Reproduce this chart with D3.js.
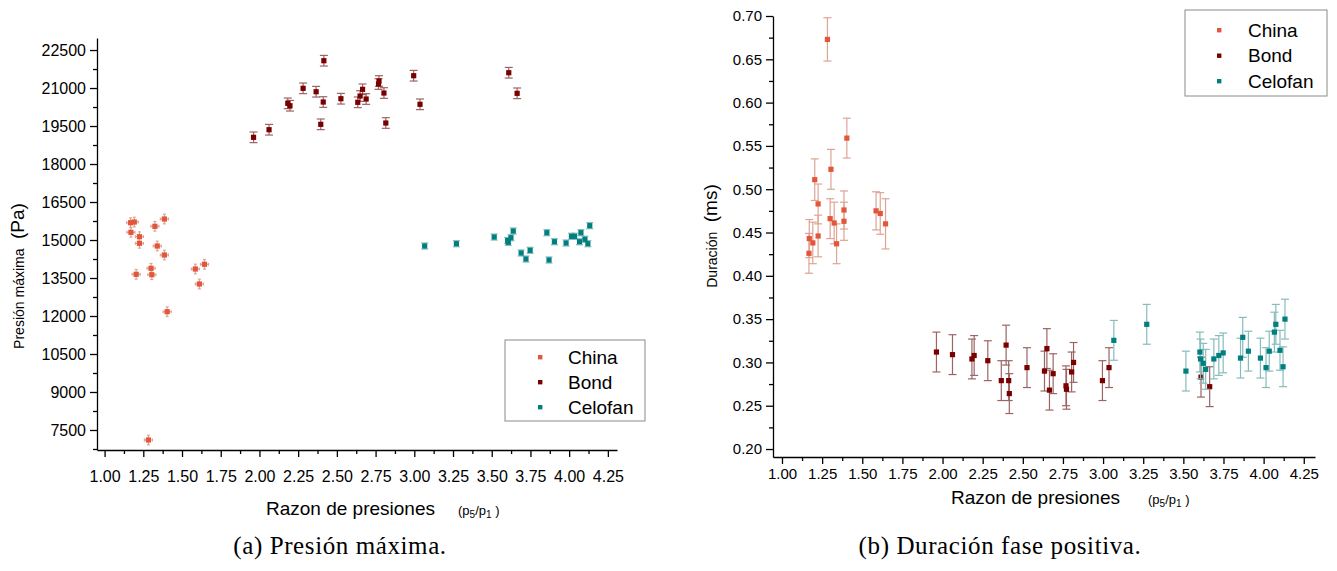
<!DOCTYPE html>
<html>
<head>
<meta charset="utf-8">
<script src="https://cdn.jsdelivr.net/npm/d3@7"></script>
<style>
  body { margin: 0; background: #fff; }
  text { font-family: "Liberation Sans", Arial, sans-serif; }
</style>
</head>
<body>
<svg id="fig" width="1337" height="571"></svg>
<script>
// ---- Papel China ----
const chinaRazon      = [1.168, 1.170, 1.192, 1.204, 1.225, 1.225, 1.283, 1.300, 1.305, 1.325, 1.340, 1.386, 1.386, 1.404, 1.586, 1.612, 1.645];
const chinaPresion    = [15683, 15304, 15710, 13646, 15130, 14870, 7105, 13883, 13630, 15540, 14763, 15829, 14408, 12170, 13855, 13263, 14041];
const chinaPresionErr = [190, 190, 190, 190, 190, 190, 190, 190, 190, 190, 190, 190, 190, 190, 190, 190, 190];
const chinaRazonErr   = [0.026, 0.026, 0.026, 0.026, 0.026, 0.026, 0.026, 0.026, 0.026, 0.026, 0.026, 0.026, 0.026, 0.026, 0.026, 0.026, 0.026];
const chinaDuracion   = [0.426, 0.443, 0.438, 0.511, 0.483, 0.446, 0.673, 0.466, 0.523, 0.461, 0.437, 0.476, 0.463, 0.559, 0.475, 0.472, 0.460];
const chinaDuracionErr= [0.023, 0.022, 0.024, 0.024, 0.023, 0.024, 0.025, 0.023, 0.023, 0.024, 0.023, 0.022, 0.022, 0.023, 0.022, 0.024, 0.029];

// ---- Papel Bond ----
const bondRazon       = [1.962, 2.062, 2.183, 2.197, 2.282, 2.366, 2.396, 2.412, 2.416, 2.526, 2.635, 2.650, 2.666, 2.689, 2.769, 2.772, 2.804, 2.816, 2.996, 3.037, 3.610, 3.664];
const bondPresion     = [19054, 19354, 20396, 20301, 20988, 20854, 19567, 20447, 22078, 20578, 20436, 20684, 20949, 20566, 21158, 21277, 20803, 19619, 21486, 20357, 21604, 20791];
const bondPresionErr  = [210, 210, 210, 210, 210, 210, 210, 210, 210, 210, 210, 210, 210, 210, 210, 210, 210, 210, 210, 210, 210, 210];
const bondDuracion    = [0.312, 0.309, 0.304, 0.308, 0.302, 0.279, 0.320, 0.279, 0.264, 0.294, 0.290, 0.316, 0.268, 0.287, 0.273, 0.269, 0.289, 0.300, 0.279, 0.294, 0.283, 0.272];
const bondDuracionErr = [0.023, 0.023, 0.023, 0.023, 0.023, 0.023, 0.023, 0.023, 0.023, 0.023, 0.023, 0.023, 0.023, 0.023, 0.023, 0.023, 0.023, 0.023, 0.023, 0.023, 0.023, 0.023];

// ---- Papel Celofán ----
const celofanRazon       = [3.067, 3.272, 3.516, 3.603, 3.607, 3.624, 3.639, 3.690, 3.721, 3.748, 3.856, 3.870, 3.905, 3.980, 4.015, 4.035, 4.067, 4.076, 4.102, 4.121, 4.133];
const celofanPresion     = [14763, 14854, 15118, 14980, 14909, 15091, 15355, 14487, 14250, 14593, 15289, 14211, 14933, 14882, 15146, 15146, 14933, 15289, 15028, 14854, 15566];
const celofanPresionErr  = [120, 120, 120, 120, 120, 120, 120, 120, 120, 120, 120, 120, 120, 120, 120, 120, 120, 120, 120, 120, 120];
const celofanDuracion    = [0.3255, 0.344, 0.290, 0.312, 0.304, 0.299, 0.292, 0.304, 0.308, 0.311, 0.305, 0.329, 0.313, 0.305, 0.294, 0.313, 0.335, 0.344, 0.314, 0.295, 0.350];
const celofanDuracionErr = [0.023, 0.023, 0.023, 0.023, 0.023, 0.023, 0.023, 0.023, 0.023, 0.023, 0.023, 0.023, 0.023, 0.023, 0.023, 0.023, 0.023, 0.023, 0.023, 0.023, 0.023];

// ---- Ticks ----
const razonTicks    = [1.00, 1.25, 1.50, 1.75, 2.00, 2.25, 2.50, 2.75, 3.00, 3.25, 3.50, 3.75, 4.00, 4.25];
const presionTicks  = [7500, 9000, 10500, 12000, 13500, 15000, 16500, 18000, 19500, 21000, 22500];
const duracionTicks = [0.20, 0.25, 0.30, 0.35, 0.40, 0.45, 0.50, 0.55, 0.60, 0.65, 0.70];
const seriesNames   = ["China", "Bond", "Celofan"];

const svg = d3.select("#fig");

const COLORS = { China: "#e2563a", Bond: "#7a0000", Celofan: "#007f7f" };
const ERRCOLORS = { China: "#dfa394", Bond: "#9c6464", Celofan: "#86bcbc" };

function zipSeries(name, xs, ys, yerr, xerr) {
  return xs.map((v, i) => ({ name, x: v, y: ys[i], ye: yerr[i], xe: xerr ? xerr[i] : 0 }));
}

function minorBetween(ticks) {
  const out = [];
  for (let i = 0; i < ticks.length - 1; i++) out.push((ticks[i] + ticks[i + 1]) / 2);
  out.push(ticks[ticks.length - 1] + (ticks[1] - ticks[0]) / 2);
  out.unshift(ticks[0] - (ticks[1] - ticks[0]) / 2);
  return out;
}

function drawPanel(p) {
  const g = svg.append("g");
  const x = d3.scaleLinear().domain(p.xDomain).range(p.xRange);
  const y = d3.scaleLinear().domain(p.yDomain).range(p.yRange);
  const xMinor = minorBetween(razonTicks).filter(v => v >= p.xDomain[0] && v <= p.xDomain[1]);
  const yMinor = minorBetween(p.yTicks).filter(v => v >= p.yDomain[0] && v <= p.yDomain[1]);

  // x axis
  const gx = g.append("g").attr("transform", `translate(0,${p.yRange[0]})`);
  gx.call(d3.axisBottom(x).tickValues(xMinor).tickSize(4).tickSizeOuter(0).tickFormat(""));
  gx.append("g").call(d3.axisBottom(x).tickValues(razonTicks).tickSize(7).tickSizeOuter(0)
      .tickPadding(p.xPad).tickFormat(d3.format(".2f")))
    .call(a => a.select(".domain").remove());
  // y axis
  const gy = g.append("g").attr("transform", `translate(${p.xRange[0]},0)`);
  gy.call(d3.axisLeft(y).tickValues(yMinor).tickSize(4).tickSizeOuter(0).tickFormat(""));
  gy.append("g").call(d3.axisLeft(y).tickValues(p.yTicks).tickSize(7).tickSizeOuter(0)
      .tickPadding(p.yPad).tickFormat(p.yFormat))
    .call(a => a.select(".domain").remove());

  g.selectAll(".domain").attr("stroke", "#000").attr("stroke-width", 1.3);
  g.selectAll(".tick line").attr("stroke", "#000").attr("stroke-width", 1.3);
  gx.selectAll(".tick text").attr("font-size", p.tickFont).attr("fill", "#000");
  gy.selectAll(".tick text").attr("font-size", p.tickFont).attr("fill", "#000");

  // error bars then markers
  p.series.forEach(s => {
    const eg = g.append("g").attr("stroke", ERRCOLORS[s.name]).attr("stroke-width", 1.2).attr("fill", "none");
    s.data.forEach(d => {
      const cx = x(d.x), cy = y(d.y);
      const y0 = y(d.y - d.ye), y1 = y(d.y + d.ye);
      eg.append("line").attr("x1", cx).attr("x2", cx).attr("y1", y0).attr("y2", y1);
      eg.append("line").attr("x1", cx - s.cap).attr("x2", cx + s.cap).attr("y1", y0).attr("y2", y0);
      eg.append("line").attr("x1", cx - s.cap).attr("x2", cx + s.cap).attr("y1", y1).attr("y2", y1);
      if (d.xe) {
        const x0 = x(d.x - d.xe), x1 = x(d.x + d.xe);
        eg.append("line").attr("x1", x0).attr("x2", x1).attr("y1", cy).attr("y2", cy);
        eg.append("line").attr("x1", x0).attr("x2", x0).attr("y1", cy - s.cap).attr("y2", cy + s.cap);
        eg.append("line").attr("x1", x1).attr("x2", x1).attr("y1", cy - s.cap).attr("y2", cy + s.cap);
      }
    });
    g.append("g").selectAll("rect").data(s.data).join("rect")
      .attr("x", d => x(d.x) - 2.6).attr("y", d => y(d.y) - 2.6)
      .attr("width", 5.2).attr("height", 5.2)
      .attr("fill", COLORS[s.name]);
  });

  // legend
  const L = p.legend;
  const lg = g.append("g");
  lg.append("rect").attr("x", L.x).attr("y", L.y).attr("width", L.w).attr("height", L.h)
    .attr("fill", "#fff").attr("stroke", "#8a8a8a").attr("stroke-width", 1);
  seriesNames.forEach((n, i) => {
    const ry = L.y + L.first + i * L.step;
    lg.append("rect").attr("x", L.mx - 2).attr("y", ry - 2).attr("width", 4.4).attr("height", 4.4).attr("fill", COLORS[n]);
    lg.append("text").attr("x", L.tx).attr("y", ry).attr("dy", "0.35em")
      .attr("font-size", L.font).attr("fill", "#000").text(n);
  });

  // x title
  const xt = g.append("text").attr("x", p.xTitle.x).attr("y", p.xTitle.y)
    .attr("font-size", p.xTitle.font).attr("fill", "#000");
  xt.append("tspan").text("Razon de presiones");
  const sub = g.append("text").attr("x", p.xTitle.px).attr("y", p.xTitle.y)
    .attr("font-size", 13).attr("fill", "#000");
  sub.append("tspan").text("(p");
  sub.append("tspan").attr("font-size", 10).attr("dy", 3).text("5");
  sub.append("tspan").attr("dy", -3).text("/p");
  sub.append("tspan").attr("font-size", 10).attr("dy", 3).text("1");
  sub.append("tspan").attr("dy", -3).text(" )");

  // y title (rotated)
  const yt = g.append("text")
    .attr("transform", `translate(${p.yTitle.x},${p.yTitle.y}) rotate(-90)`)
    .attr("text-anchor", "middle").attr("fill", "#000");
  yt.append("tspan").attr("font-size", p.yTitle.font1).text(p.yTitle.main);
  yt.append("tspan").attr("font-size", p.yTitle.font2).text("\u2002" + p.yTitle.unit);

  // caption
  svg.append("text").attr("x", p.caption.x).attr("y", p.caption.y)
    .attr("text-anchor", "middle")
    .style("font-family", "'Liberation Serif', 'DejaVu Serif', serif")
    .attr("letter-spacing", 0.6)
    .attr("font-size", p.caption.font).attr("fill", "#000").text(p.caption.text);
}

drawPanel({
  xDomain: [0.951, 4.309], xRange: [97, 617],
  yDomain: [6710, 22975], yRange: [450, 38],
  yTicks: presionTicks, yFormat: d3.format("d"),
  tickFont: 16, xPad: 14, yPad: 4,
  series: [
    { name: "China",   cap: 1.5, data: zipSeries("China", chinaRazon, chinaPresion, chinaPresionErr, chinaRazonErr) },
    { name: "Bond",    cap: 4,   data: zipSeries("Bond", bondRazon, bondPresion, bondPresionErr) },
    { name: "Celofan", cap: 3.5, data: zipSeries("Celofan", celofanRazon, celofanPresion, celofanPresionErr) }
  ],
  legend: { x: 505, y: 340, w: 140, h: 81, first: 17, step: 25, mx: 540, tx: 568, font: 19 },
  xTitle: { x: 266, px: 458, y: 515, font: 19 },
  yTitle: { x: 24, y: 276, main: "Presión máxima", unit: "(Pa)", font1: 14, font2: 19 },
  caption: { x: 340, y: 554, font: 25, text: "(a) Presión máxima." }
});

drawPanel({
  xDomain: [0.944, 4.32], xRange: [773, 1315],
  yDomain: [0.1908, 0.70], yRange: [457, 16],
  yTicks: duracionTicks, yFormat: d3.format(".2f"),
  tickFont: 15, xPad: 4, yPad: 4,
  series: [
    { name: "China",   cap: 4, data: zipSeries("China", chinaRazon, chinaDuracion, chinaDuracionErr) },
    { name: "Bond",    cap: 4, data: zipSeries("Bond", bondRazon, bondDuracion, bondDuracionErr) },
    { name: "Celofan", cap: 4, data: zipSeries("Celofan", celofanRazon, celofanDuracion, celofanDuracionErr) }
  ],
  legend: { x: 1185, y: 10, w: 142, h: 86, first: 20, step: 25.5, mx: 1219, tx: 1248, font: 19 },
  xTitle: { x: 951, px: 1148, y: 504, font: 19 },
  yTitle: { x: 717, y: 236, main: "Duración", unit: "(ms)", font1: 14, font2: 19 },
  caption: { x: 1000, y: 554, font: 25, text: "(b) Duración fase positiva." }
});
</script>
</body>
</html>
